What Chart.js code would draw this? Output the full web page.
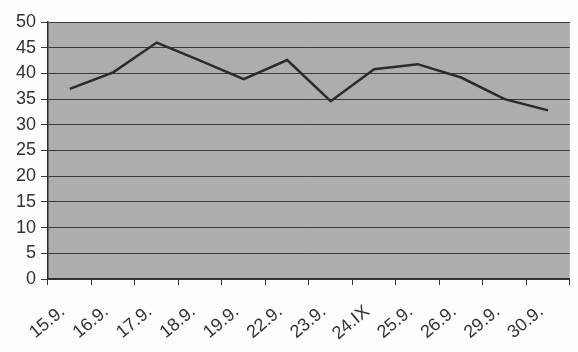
<!DOCTYPE html>
<html>
<head>
<meta charset="utf-8">
<script src="https://cdn.jsdelivr.net/npm/chart.js@4/dist/chart.umd.min.js"></script>
<style>
    html, body { margin: 0; padding: 0; background: #fdfdfd; }
    canvas { display: block; }
</style>
</head>
<body>
<canvas id="chart" width="578" height="352"></canvas>
<script>
(function () {
    "use strict";

    // data
    const categories = ["15.9.", "16.9.", "17.9.", "18.9.", "19.9.", "22.9.", "23.9.", "24.IX", "25.9.", "26.9.", "29.9.", "30.9."];
    const values = [37, 40.2, 46, 42.5, 38.9, 42.6, 34.6, 40.8, 41.8, 39.2, 35, 32.8];
    const yMin = 0;
    const yMax = 50;
    const yStep = 5;

    const ink = "#333333";

    // gray plot area
    const plotBackground = {
        id: "plotBackground",
        beforeDraw(chart) {
            const { ctx, chartArea: a } = chart;
            ctx.save();
            ctx.fillStyle = "#adadad";
            ctx.fillRect(a.left, a.top, a.right - a.left, a.bottom - a.top);
            ctx.restore();
        },
    };

    new Chart(document.getElementById("chart"), {
        type: "line",
        data: {
            labels: categories,
            datasets: [
                {
                    data: values,
                    borderColor: "#2b2b2b",
                    borderWidth: 2.5,
                    pointRadius: 0,
                    tension: 0,
                    fill: false,
                },
            ],
        },
        plugins: [plotBackground],
        options: {
            responsive: false,
            animation: false,
            devicePixelRatio: 1,
            layout: {
                padding: { top: 22, right: 1, left: 0, bottom: 0 },
            },
            plugins: {
                legend: { display: false },
                tooltip: { enabled: false },
            },
            scales: {
                x: {
                    offset: true,
                    afterFit: (scale) => { scale.height = 73; },
                    ticks: {
                        minRotation: 40,
                        maxRotation: 40,
                        autoSkip: false,
                        padding: 16,
                        labelOffset: -7,
                        color: ink,
                        font: { family: "'Liberation Sans', Arial, sans-serif", size: 18 },
                    },
                    grid: {
                        offset: true,
                        drawOnChartArea: false,
                        drawTicks: true,
                        tickLength: 6,
                        color: ink,
                    },
                    border: { display: true, color: "#2e2e2e", width: 1.5 },
                },
                y: {
                    min: yMin,
                    max: yMax,
                    afterFit: (scale) => { scale.width = 48; },
                    ticks: {
                        stepSize: yStep,
                        padding: 5,
                        color: ink,
                        font: { family: "'Liberation Sans', Arial, sans-serif", size: 18 },
                    },
                    grid: {
                        color: "#3a3a3a",
                        lineWidth: 1,
                        tickLength: 7,
                    },
                    border: { display: true, color: "#2e2e2e", width: 1.5 },
                },
            },
        },
    });
})();
</script>
</body>
</html>
